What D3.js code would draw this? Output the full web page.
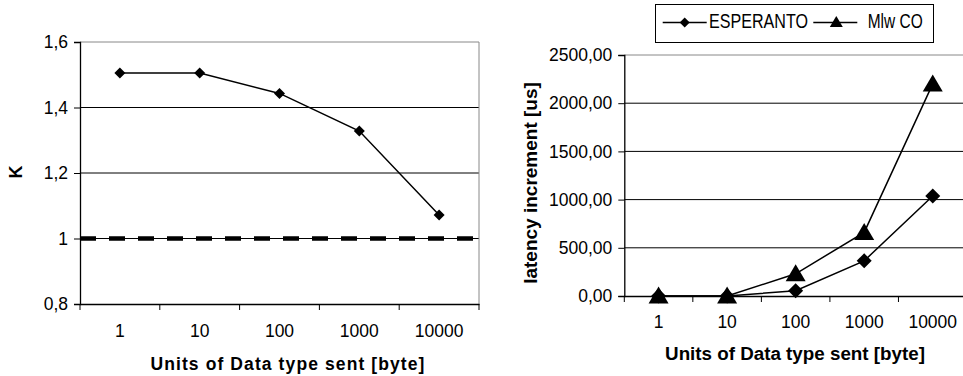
<!DOCTYPE html>
<html>
<head>
<meta charset="utf-8">
<script src="https://cdn.jsdelivr.net/npm/d3@7"></script>
<style>
  body { margin: 0; background: #fff; }
  svg { font-family: "Liberation Sans", Arial, sans-serif; }
</style>
</head>
<body>
<div id="chart"></div>
<script>
const categories = ["1", "10", "100", "1000", "10000"];
const kValues = [1.505, 1.505, 1.443, 1.328, 1.072];
const kTicks = [0.8, 1, 1.2, 1.4, 1.6];
const esperanto = [0, 0, 55, 365, 1038];
const mlwco = [0, 0, 230, 660, 2200];
const latTicks = [0, 500, 1000, 1500, 2000, 2500];

const svg = d3.select("#chart").append("svg")
    .attr("width", 963).attr("height", 376);

function comma(f) { return d => f(d).replace(".", ","); }

function diamond(g, cx, cy, r) {
  g.append("path")
    .attr("d", `M${cx},${cy - r}L${cx + r},${cy}L${cx},${cy + r}L${cx - r},${cy}Z`)
    .attr("fill", "#000");
}
function triangle(g, cx, cy, w, h) {
  g.append("path")
    .attr("d", `M${cx},${cy - h / 2}L${cx + w / 2},${cy + h / 2}L${cx - w / 2},${cy + h / 2}Z`)
    .attr("fill", "#000");
}

// shared frame: gridlines, axes, category ticks
function frame(box, yDomain, ticks, fmt, labelY, titleY, titleSpacing, titleSize) {
  const x = d3.scaleBand().domain(categories).range([box.x0, box.x1]).padding(0);
  const y = d3.scaleLinear().domain(yDomain).range([box.y1, box.y0]);
  const g = svg.append("g");

  g.selectAll(".grid").data(ticks.slice(1, -1)).enter().append("line")
    .attr("x1", box.x0).attr("x2", box.x1)
    .attr("y1", d => y(d)).attr("y2", d => y(d))
    .attr("stroke", "#000").attr("stroke-width", 1);
  // plot border (top and right) in gray
  g.append("path")
    .attr("d", `M${box.x0},${y(yDomain[1])}H${box.x1}V${box.y1}`)
    .attr("fill", "none").attr("stroke", "#888").attr("stroke-width", 1);

  const ya = g.append("g").attr("transform", `translate(${box.x0},0)`)
    .call(d3.axisLeft(y).tickValues(ticks).tickFormat(fmt).tickSize(6).tickPadding(6));
  ya.select(".domain").attr("stroke-width", 1.3);
  ya.selectAll("text").attr("font-size", 17.5).attr("fill", "#000");

  const xa = g.append("g").attr("transform", `translate(0,${box.y1})`)
    .call(d3.axisBottom(x).tickSize(0).tickPadding(0));
  xa.select(".domain").attr("stroke-width", 1.3);
  xa.selectAll("text").attr("font-size", 17.5).attr("fill", "#000")
    .attr("dy", null).attr("y", labelY - box.y1);
  // tick marks between categories
  const bounds = categories.map(c => x(c)).concat([box.x1]);
  g.selectAll(".bt").data(bounds).enter().append("line")
    .attr("x1", d => d).attr("x2", d => d)
    .attr("y1", box.y1).attr("y2", box.y1 + 6)
    .attr("stroke", "#000");

  g.append("text")
    .attr("x", box.tx).attr("y", titleY)
    .attr("text-anchor", "middle")
    .attr("font-size", titleSize).attr("font-weight", "bold")
    .attr("letter-spacing", titleSpacing)
    .text("Units of Data type sent [byte]");

  return { g, x, y, cx: c => x(c) + x.bandwidth() / 2 };
}

// ---- left chart: K
const L = frame({ x0: 80, x1: 479, y0: 42, y1: 304, tx: 288 },
  [0.8, 1.6], kTicks, d => String(d).replace(".", ","), 337, 370, 1.1, 17.5);

L.g.append("line")
  .attr("x1", 80).attr("x2", 479)
  .attr("y1", L.y(1)).attr("y2", L.y(1))
  .attr("stroke", "#000").attr("stroke-width", 4.5)
  .attr("stroke-dasharray", "16,13");

L.g.append("path")
  .attr("d", d3.line().x((d, i) => L.cx(categories[i])).y(d => L.y(d))(kValues))
  .attr("fill", "none").attr("stroke", "#000").attr("stroke-width", 1.5);
kValues.forEach((v, i) => diamond(L.g, L.cx(categories[i]), L.y(v), 5.5));

L.g.append("text")
  .attr("transform", "translate(22,172) rotate(-90)")
  .attr("text-anchor", "middle")
  .attr("font-size", 18).attr("font-weight", "bold")
  .text("K");

// ---- right chart: latency increment
const R = frame({ x0: 624.3, x1: 967, y0: 55, y1: 296, tx: 795 },
  [0, 2500], latTicks, comma(d3.format(".2f")), 328, 360, 0, 18.8);

const line = d3.line().x((d, i) => R.cx(categories[i])).y(d => R.y(d));
R.g.append("path").attr("d", line(mlwco))
  .attr("fill", "none").attr("stroke", "#000").attr("stroke-width", 1.5);
R.g.append("path").attr("d", line(esperanto))
  .attr("fill", "none").attr("stroke", "#000").attr("stroke-width", 1.5);
mlwco.forEach((v, i) => triangle(R.g, R.cx(categories[i]), R.y(v) - 1, 20, 17));
esperanto.forEach((v, i) => diamond(R.g, R.cx(categories[i]), R.y(v), 7.5));

R.g.append("text")
  .attr("transform", "translate(537,183) rotate(-90)")
  .attr("text-anchor", "middle")
  .attr("font-size", 19).attr("font-weight", "bold")
  .text("latency increment [us]");

// legend
const lg = svg.append("g");
lg.append("rect").attr("x", 655.5).attr("y", 4.5).attr("width", 278).attr("height", 38)
  .attr("fill", "#fff").attr("stroke", "#000").attr("stroke-width", 1);
const legendItems = [
  { name: "ESPERANTO", x: 662.7, tx: 709, tw: 99, mark: "d" },
  { name: "Mlw CO", x: 813.3, tx: 867.7, tw: 55, mark: "t" }
];
legendItems.forEach(it => {
  lg.append("line").attr("x1", it.x).attr("x2", it.x + 44)
    .attr("y1", 22.5).attr("y2", 22.5).attr("stroke", "#000").attr("stroke-width", 1.5);
  if (it.mark === "d") diamond(lg, it.x + 22, 22.5, 5);
  else triangle(lg, it.x + 23, 21.5, 13, 11);
  lg.append("text").attr("x", it.tx).attr("y", 28.3)
    .attr("font-size", 19.5).attr("textLength", it.tw).attr("lengthAdjust", "spacingAndGlyphs")
    .text(it.name);
});
</script>
</body>
</html>
